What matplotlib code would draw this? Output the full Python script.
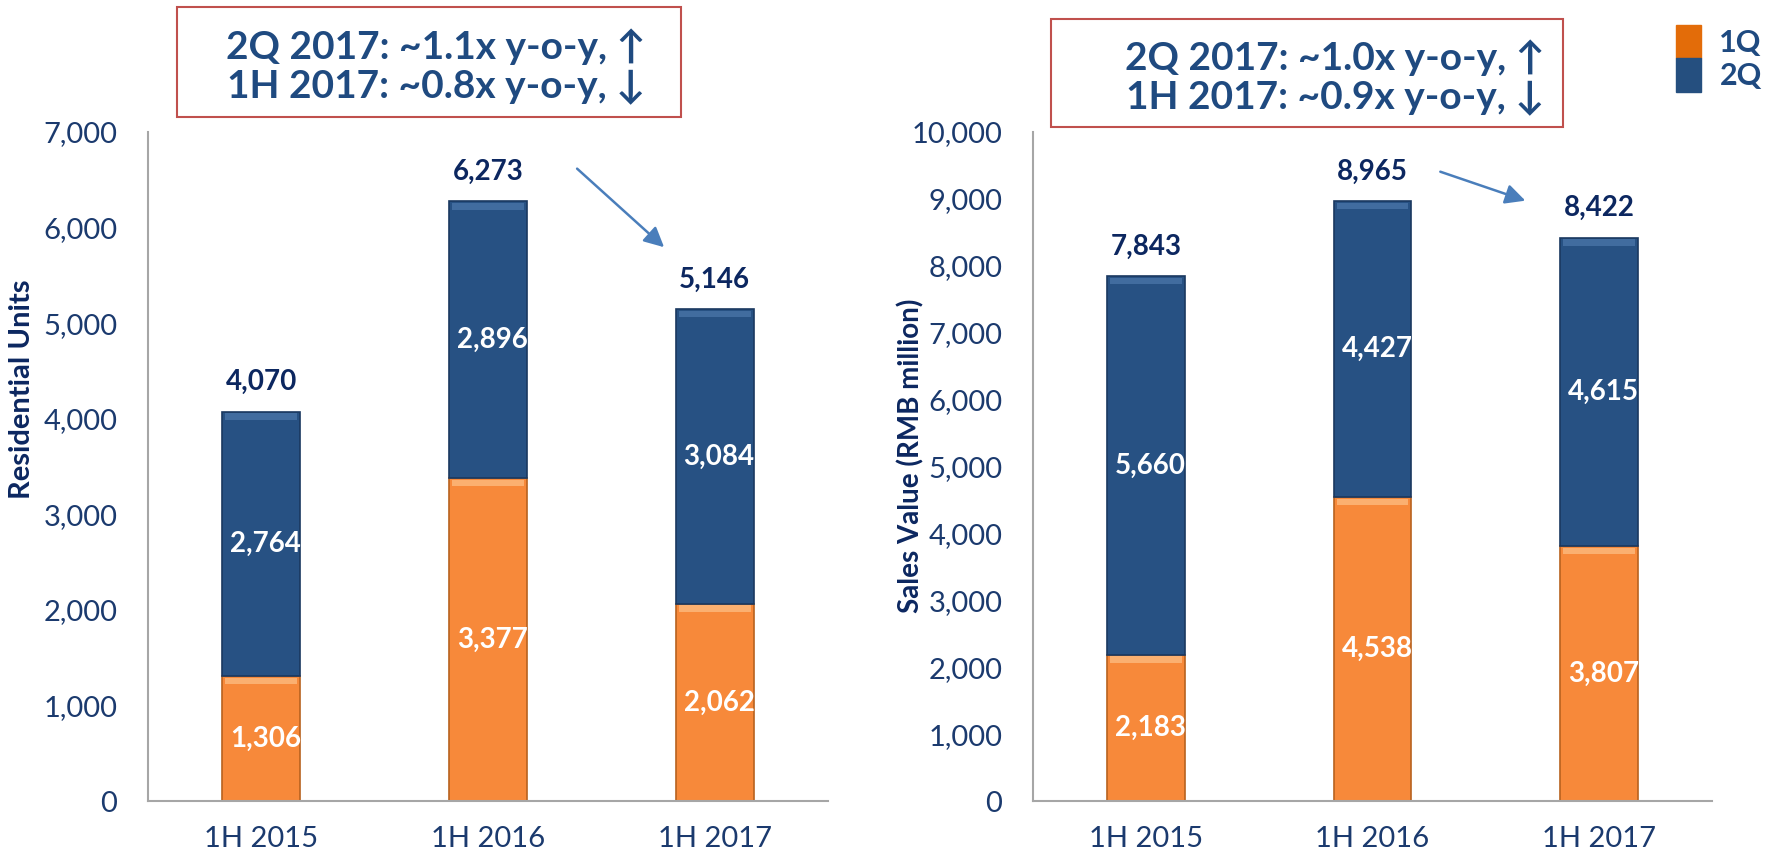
import matplotlib
matplotlib.use("Agg")
import matplotlib.pyplot as plt
from matplotlib.patches import Rectangle, Patch

# data
periods = ["1H 2015", "1H 2016", "1H 2017"]
units_q1 = [1306, 3377, 2062]
units_q2 = [2764, 2896, 3084]
sales_q1 = [2183, 4538, 3807]
sales_q2 = [5660, 4427, 4615]
box_left = ["2Q 2017: ~1.1x y-o-y, \u2191", "1H 2017: ~0.8x y-o-y, \u2193"]
box_right = ["2Q 2017: ~1.0x y-o-y, \u2191", "1H 2017: ~0.9x y-o-y, \u2193"]
legend_labels = ["1Q", "2Q"]

ORANGE = "#F7893A"
BLUE = "#275183"
NAVY = "#1B3A6E"
DARK = "#0C2760"
FONT = ["Lato", "DejaVu Sans"]

plt.rcParams["font.family"] = FONT

W, H = 1772, 855
fig = plt.figure(figsize=(W / 100, H / 100), dpi=100)


def px_axes(x0, y0, x1, y1):
    return fig.add_axes([x0 / W, 1 - y1 / H, (x1 - x0) / W, (y1 - y0) / H])


def draw(ax, q1, q2, ymax, ylabel, label_xy, label_size):
    x = range(len(periods))
    w = 0.344
    tot = [a + b for a, b in zip(q1, q2)]
    ax.bar(x, q1, w, color=ORANGE, edgecolor="#B8621F", linewidth=1.2, zorder=2)
    ax.bar(x, q2, w, bottom=q1, color=BLUE, edgecolor="#1A3860", linewidth=1.2, zorder=2)
    # light bevel strip along the top of each segment
    strip = ymax * 0.010
    ax.bar(x, [strip] * 3, w * 0.92, bottom=[v - strip * 1.2 for v in q1],
           color="#FBB070", linewidth=0, zorder=3)
    ax.bar(x, [strip] * 3, w * 0.92, bottom=[v - strip * 1.2 for v in tot],
           color="#416C9F", linewidth=0, zorder=3)

    for i in x:
        ax.text(i + 0.02, q1[i] / 2, f"{q1[i]:,}", ha="center", va="center",
                color="white", fontsize=20, fontweight="bold", zorder=4)
        ax.text(i + 0.02, q1[i] + q2[i] / 2, f"{q2[i]:,}", ha="center", va="center",
                color="white", fontsize=20, fontweight="bold", zorder=4)
        ax.annotate(f"{tot[i]:,}", (i, tot[i]), xytext=(0, 12), textcoords="offset points",
                    ha="center", va="bottom", color=DARK, fontsize=20, fontweight="bold")

    ax.set_xlim(-0.5, 2.5)
    ax.set_ylim(0, ymax)
    ax.set_yticks(range(0, ymax + 1, 1000))
    ax.set_yticklabels([f"{v:,}" for v in range(0, ymax + 1, 1000)])
    ax.set_xticks(list(x))
    ax.set_xticklabels(periods)
    ax.tick_params(axis="y", length=0, pad=22, labelsize=21, labelcolor=NAVY)
    ax.tick_params(axis="x", length=0, pad=18, labelsize=21, labelcolor=NAVY)
    for s in ["top", "right"]:
        ax.spines[s].set_visible(False)
    for s in ["left", "bottom"]:
        ax.spines[s].set_color("#A6A6A6")
        ax.spines[s].set_linewidth(1.5)
    ax.set_ylabel(ylabel, fontsize=label_size, fontweight="bold", color=DARK)
    ax.yaxis.set_label_coords(*label_xy)


ax1 = px_axes(148, 132, 828, 801)
draw(ax1, units_q1, units_q2, 7000, "Residential Units", (-0.166, 0.615), 21)
ax1.annotate("", xy=(0.762, 0.825), xytext=(0.628, 0.948), xycoords="axes fraction",
             arrowprops=dict(arrowstyle="-|>", color="#4A7EBB", lw=1.8, mutation_scale=30))

ax2 = px_axes(1033, 132, 1712, 801)
draw(ax2, sales_q1, sales_q2, 10000, "Sales Value (RMB million)", (-0.160, 0.516), 20)
ax2.annotate("", xy=(0.729, 0.896), xytext=(0.596, 0.942), xycoords="axes fraction",
             arrowprops=dict(arrowstyle="-|>", color="#4A7EBB", lw=1.8, mutation_scale=30))

# call-out boxes: (box in px), text centre x in px
for (x0, y0, x1, y1), tx, lines in [((177, 7, 681, 117), 436, box_left),
                                    ((1051, 19, 1563, 127), 1335, box_right)]:
    fig.patches.append(Rectangle((x0 / W, 1 - y1 / H), (x1 - x0) / W, (y1 - y0) / H,
                                 transform=fig.transFigure, fill=False,
                                 edgecolor="#C0504D", linewidth=1.5))
    cy = 1 - ((y0 + y1) / 2 + 4) / H
    fig.text(tx / W, cy, "\n".join(lines), ha="center", va="center", color="#1F4A80",
             fontsize=28, fontweight="bold", linespacing=1.1)

handles = [Patch(color="#E36C09"), Patch(color="#254F7F")]
fig.legend(handles, legend_labels, loc="upper left", bbox_to_anchor=(1676 / W, 1 - 25 / H),
           frameon=False, borderpad=0, borderaxespad=0, labelspacing=0,
           handlelength=0.82, handleheight=1.3, handletextpad=0.6,
           prop={"size": 22, "weight": "bold"}, labelcolor="#1F4A80")

fig.savefig("out.png", dpi=100)
